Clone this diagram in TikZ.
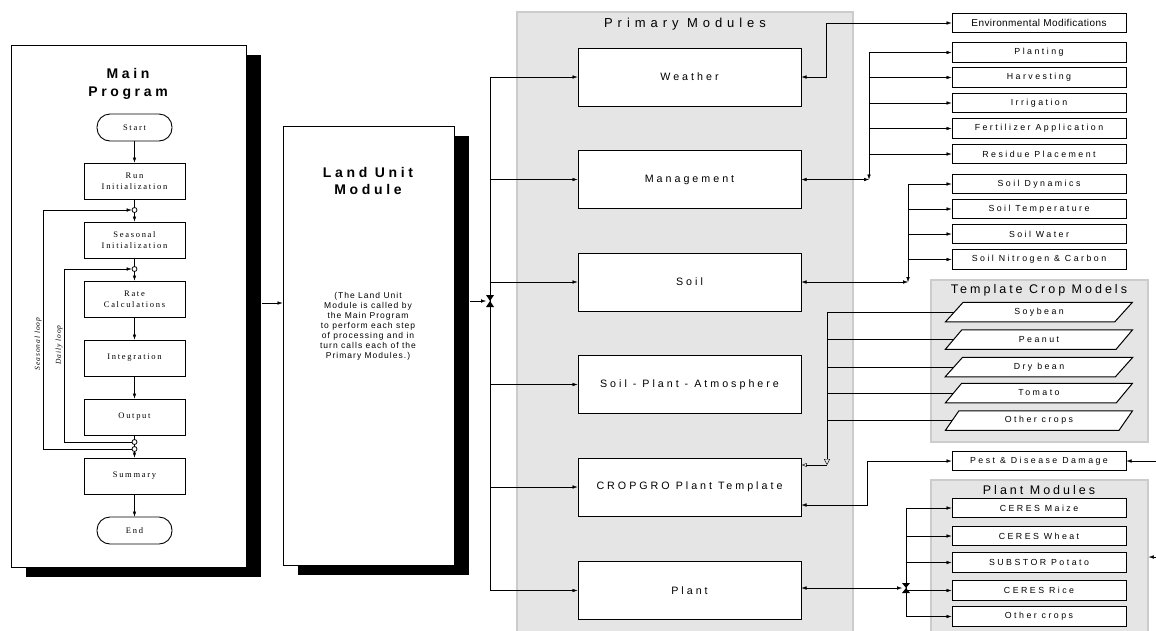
\documentclass[tikz,border=0pt]{standalone}
\usepackage{fontspec}
\setmainfont{Liberation Sans}
\newfontfamily\modfont{Liberation Sans}[LetterSpace=28]
\newfontfamily\subfont{Liberation Sans}[LetterSpace=28]
\newfontfamily\envfont{Liberation Sans}[LetterSpace=4]
\newfontfamily\descfont{Liberation Sans}[LetterSpace=12]
\newfontfamily\headfont{Liberation Sans}[LetterSpace=26]
\newfontfamily\panelfont{Liberation Sans}[LetterSpace=24]
\newfontfamily\primfont{Liberation Sans}[LetterSpace=38]
\newfontfamily\stepfont{Liberation Serif}[LetterSpace=20]
\newfontfamily\loopfont{Liberation Serif}[LetterSpace=12]
\usetikzlibrary{arrows.meta,calc,shapes.geometric,shadows}

\tikzset{
  arr/.style={-{Latex[length=5pt,width=3.5pt]}},
  arrs/.style={{Latex[length=5pt,width=3.5pt]}-{Latex[length=5pt,width=3.5pt]}},
  panel/.style={draw=black!20, line width=1.5pt, fill=black!10},
  bigbox/.style={draw, line width=1pt, fill=white,
    drop shadow={shadow xshift=15pt, shadow yshift=-10pt, fill=black, opacity=1}},
  flowbox/.style={draw, line width=0.9pt, fill=white, minimum width=101pt, minimum height=36pt,
    align=center, font=\stepfont\fontsize{8.5}{11}\selectfont},
  term/.style={draw, line width=0.9pt, rounded corners=13pt, minimum width=75pt, minimum height=27pt,
    font=\stepfont\fontsize{8.5}{10}\selectfont},
  dot/.style={circle, draw, line width=0.8pt, fill=white, inner sep=0pt, minimum size=5pt},
  module/.style={draw, line width=1pt, fill=white, minimum width=223pt, minimum height=58pt,
    font=\modfont\fontsize{10.7}{12}\selectfont},
  subbox/.style={draw, line width=1pt, fill=white, minimum width=174pt, minimum height=19.5pt,
    inner sep=0pt, font=\subfont\fontsize{8.8}{10}\selectfont},
  crop/.style={trapezium, trapezium left angle=55, trapezium right angle=125, trapezium stretches=true,
    draw, line width=1pt, fill=white, minimum width=188pt, minimum height=19.5pt, inner sep=0pt,
    font=\subfont\fontsize{8.8}{10}\selectfont},
  paneltitle/.style={font=\panelfont\fontsize{12.5}{14}\selectfont},
}

\begin{document}
\begin{tikzpicture}[x=1pt,y=-1pt]
    \useasboundingbox (0,0) rectangle (1156,630);

    % panels
    \node[panel, minimum width=336pt, minimum height=620pt] (primpanel) at (685,322) {};
    \node[panel, minimum width=217pt, minimum height=162pt] (croppanel) at (1039.5,361) {};
    \node[panel, minimum width=217pt, minimum height=152pt] (plantpanel) at (1039.5,556) {};
    \node[font=\primfont\fontsize{13}{14}\selectfont] (primtitle) at (685,24) {Primary Modules};
    \node[paneltitle] (croptitle) at (1039,290) {Template Crop Models};
    \node[paneltitle] (planttitle) at (1039,490) {Plant Modules};

    % main program
    \node[bigbox, minimum width=235pt, minimum height=522pt] (main) at (128.5,306) {};
    \node[font=\headfont\bfseries\fontsize{14}{18}\selectfont, align=center] (maintitle) at (128,84) {Main\\Program};
    \node[term] (start) at (134.5,127.5) {Start};
    \node[flowbox] (run) at (134.5,181) {Run\\Initialization};
    \node[flowbox] (seas) at (134.5,240) {Seasonal\\Initialization};
    \node[flowbox] (rate) at (134.5,299) {Rate\\Calculations};
    \node[flowbox] (integ) at (134.5,358) {Integration};
    \node[flowbox] (output) at (134.5,417) {Output};
    \node[flowbox] (summ) at (134.5,476) {Summary};
    \node[term] (finish) at (134.5,530.5) {End};
    \node[dot] (j1) at (134.5,210) {};
    \node[dot] (j2) at (134.5,269) {};
    \node[dot] (j3) at (134.5,442) {};
    \node[dot] (j4) at (134.5,449) {};
    \coordinate (dayx) at (64,269);
    \coordinate (seasx) at (43,210);
    \node[rotate=90, font=\loopfont\itshape\fontsize{7.5}{8}\selectfont] (seaslabel) at (38,344) {Seasonal loop};
    \node[rotate=90, font=\loopfont\itshape\fontsize{7.5}{8}\selectfont] (daylabel) at (59,345) {Daily loop};

    \draw[arr] (start) -- (run);
    \draw (run) -- (j1);
    \draw[arr] (j1) -- (seas);
    \draw (seas) -- (j2);
    \draw[arr] (j2) -- (rate);
    \draw[arr] (rate) -- (integ);
    \draw[arr] (integ) -- (output);
    \draw (output) -- (j3);
    \draw (j3) -- (j4);
    \draw[arr] (j4) -- (summ);
    \draw[arr] (summ) -- (finish);
    \draw[arr] (j3) -| (dayx) -- (j2);
    \draw[arr] (j4) -| (seasx) -- (j1);

    % land unit
    \node[bigbox, minimum width=171pt, minimum height=439pt] (land) at (368.5,345.5) {};
    \node[font=\headfont\bfseries\fontsize{14}{17}\selectfont, align=center] (landtitle) at (368,180.5) {Land Unit\\Module};
    \node[font=\descfont\fontsize{8.5}{10}\selectfont, align=center] (landtext) at (368,326.5)
        {(The Land Unit\\Module is called by\\the Main Program\\to perform each step\\of processing and in\\turn calls each of the\\Primary Modules.)};
    \coordinate (mainout) at ($(main.east)+(15,-3)$);
    \draw[arr] (mainout) -- (mainout -| land.west);
    \coordinate (hub) at (490,301);

    % primary modules
    \node[module] (weather) at (689.5,77) {Weather};
    \node[module] (mgmt) at (689.5,179.5) {Management};
    \node[module] (soil) at (689.5,282) {Soil};
    \node[module] (spa) at (689.5,384.5) {Soil - Plant - Atmosphere};
    \node[module] (cropgro) at (689.5,487) {CROPGRO Plant Template};
    \node[module] (plant) at (689.5,590.5) {Plant};

    \draw[arr] ($(hub -| land.east)+(15,0)$) -- ($(hub)+(-4,0)$);
    \foreach \m in {weather,mgmt,soil,spa,cropgro,plant}
        \draw[arr] (hub) |- (\m.west);
    \fill (hub) +(-4,-6) -- +(4,-6) -- +(-4,6) -- +(4,6) -- cycle;

    % sub modules
    \node[subbox, font=\envfont\fontsize{10}{12}\selectfont] (envmod) at (1039,23) {Environmental Modifications};
    \node[subbox] (planting) at (1039,52.5) {Planting};
    \node[subbox] (harvest) at (1039,77.5) {Harvesting};
    \node[subbox] (irrig) at (1039,103) {Irrigation};
    \node[subbox] (fert) at (1039,128.5) {Fertilizer Application};
    \node[subbox] (residue) at (1039,154) {Residue Placement};
    \node[subbox] (soildyn) at (1039,184) {Soil Dynamics};
    \node[subbox] (soiltemp) at (1039,209) {Soil Temperature};
    \node[subbox] (soilwat) at (1039,234) {Soil Water};
    \node[subbox] (soilnc) at (1039,259.5) {Soil Nitrogen \& Carbon};
    \node[crop] (soybean) at (1039,312) {Soybean};
    \node[crop] (peanut) at (1039,339.5) {Peanut};
    \node[crop] (drybean) at (1039,367) {Dry bean};
    \node[crop] (tomato) at (1039,393) {Tomato};
    \node[crop] (othercrop) at (1039,420.5) {Other crops};
    \node[subbox] (pest) at (1039,461) {Pest \& Disease Damage};
    \node[subbox] (maize) at (1039,508) {CERES Maize};
    \node[subbox] (wheat) at (1039,536) {CERES Wheat};
    \node[subbox] (potato) at (1039,562.5) {SUBSTOR Potato};
    \node[subbox] (rice) at (1039,590.5) {CERES Rice};
    \node[subbox] (otherplant) at (1039,616.5) {Other crops};

    \draw[arrs] (weather.east) -- ++(25,0) |- (envmod.west);

    \coordinate (mgbus) at (869,179.5);
    \draw[arr] (mgbus |- planting.west) -- (mgbus);
    \draw[arrs] (mgmt.east) -- (mgbus);
    \foreach \n in {planting,harvest,irrig,fert,residue}
        \draw[arr] (mgbus |- \n.west) -- (\n.west);

    \coordinate (slbus) at (908,282);
    \draw[arr] (slbus |- soildyn.west) -- (slbus);
    \draw[arrs] (soil.east) -- (slbus);
    \foreach \n in {soildyn,soiltemp,soilwat,soilnc}
        \draw[arr] (slbus |- \n.west) -- (\n.west);

    \coordinate (cpbus) at (827,465);
    \foreach \n in {soybean,peanut,drybean,tomato,othercrop}
        \draw (\n.west) -- (cpbus |- \n.west);
    \draw[-{Triangle[open,length=6pt,width=6pt]}] (cpbus |- soybean.west) -- (cpbus);
    \draw[-{Latex[open,length=5pt,width=4pt]}] (cpbus) -- (cpbus -| cropgro.east);

    \draw[arrs] ($(cropgro.east)+(0,18)$) -- ++(66,0) |- (pest.west);
    \coordinate (pestsrc) at (1156,461);
    \draw[arr] (pestsrc) -- (pest.east);

    \coordinate (plbus) at (906,588);
    \draw (plbus |- maize.west) -- (plbus |- otherplant.west);
    \foreach \n in {maize,wheat,potato,rice,otherplant}
        \draw[arr] (plbus |- \n.west) -- (\n.west);
    \draw[arrs] (plbus -| plant.east) -- ($(plbus)+(-4,0)$);
    \fill (plbus) +(-4,-5) -- +(4,-5) -- +(-4,5) -- +(4,5) -- cycle;
    \coordinate (plsrc) at (1158,557);
    \draw[arr] (plsrc) -- (plsrc -| plantpanel.east);
\end{tikzpicture}
\end{document}
